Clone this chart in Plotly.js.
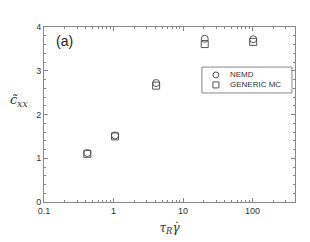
<!DOCTYPE html>
<html>
<head>
<meta charset="utf-8">
<script src="https://cdn.plot.ly/plotly-3.0.1.min.js"></script>
<style>html,body{margin:0;padding:0;background:#fff;}#chart{width:310px;height:242px;}</style>
</head>
<body>
<div id="chart"></div>
<script>
var shearRates = [0.42, 1.05, 4.1, 20.5, 102];
var nemdValues = [1.12, 1.52, 2.72, 3.73, 3.72];
var genericValues = [1.10, 1.50, 2.66, 3.61, 3.66];
var seriesNames = ['NEMD', 'GENERIC MC'];
var seriesShapes = ['circle', 'rect'];
var xTickVals = [0.1, 1, 10, 100];
var xTickText = ['0.1', '1', '10', '100'];
var yTickVals = [0, 1, 2, 3, 4];

var traces = [
  {x: shearRates, y: nemdValues, name: seriesNames[0], mode: 'markers', type: 'scatter',
   marker: {symbol: 'circle-open', color: '#555', size: 7, line: {width: 1}}},
  {x: shearRates, y: genericValues, name: seriesNames[1], mode: 'markers', type: 'scatter',
   marker: {symbol: 'square-open', color: '#555', size: 7, line: {width: 1}}}
];
var axisCommon = {showline: true, linecolor: '#888', linewidth: 1, mirror: 'ticks', ticks: 'inside',
  ticklen: 4, tickcolor: '#888', showgrid: false, zeroline: false,
  tickfont: {family: 'Liberation Sans, Arial', size: 9, color: '#333'}};

var legendRows = [0.726, 0.669];
var annotations = [
  {text: '(a)', xref: 'paper', yref: 'paper', x: 0.04, y: 0.92, xanchor: 'left', yanchor: 'middle',
   showarrow: false, font: {family: 'Liberation Sans, Arial', size: 14, color: '#222'}},
  {text: '<i>c\u0303<sub>xx</sub></i>', xref: 'paper', yref: 'paper', x: -0.1, y: 0.58, xanchor: 'center', yanchor: 'middle',
   showarrow: false, font: {family: 'DejaVu Serif, serif', size: 13, color: '#333'}}
];
var shapes = [
  {type: 'rect', xref: 'paper', yref: 'paper', x0: 0.629, x1: 0.988, y0: 0.623, y1: 0.771,
   line: {color: '#888', width: 1}, fillcolor: '#fff', layer: 'below'}
];
var hw = 3 / 251, hh = 3 / 175;
seriesNames.forEach(function (n, i) {
  shapes.push({type: seriesShapes[i], xref: 'paper', yref: 'paper',
    x0: 0.685 - hw, x1: 0.685 + hw, y0: legendRows[i] - hh, y1: legendRows[i] + hh,
    line: {color: '#555', width: 1}});
  annotations.push({text: n, xref: 'paper', yref: 'paper', x: 0.735, y: legendRows[i],
    xanchor: 'left', yanchor: 'middle', showarrow: false,
    font: {family: 'Liberation Sans, Arial', size: 8, color: '#333'}});
});

var layout = {
  width: 310, height: 242,
  margin: {l: 44, r: 15, t: 27, b: 40},
  paper_bgcolor: '#fff', plot_bgcolor: '#fff',
  showlegend: false,
  xaxis: Object.assign({}, axisCommon, {type: 'log', range: [-1, 2.61], tickmode: 'array',
    tickvals: xTickVals, ticktext: xTickText,
    minor: {ticks: 'inside', ticklen: 2, tickcolor: '#888', dtick: 'D1'},
    title: {text: '<i>τ<sub>R</sub>γ\u0307</i>', font: {family: 'DejaVu Serif, serif', size: 12, color: '#333'}, standoff: 8}}),
  yaxis: Object.assign({}, axisCommon, {range: [0, 4], tickmode: 'array', tickvals: yTickVals,
    minor: {ticks: 'inside', ticklen: 2, tickcolor: '#888', dtick: 0.2}}),
  shapes: shapes,
  annotations: annotations
};
Plotly.newPlot('chart', traces, layout, {staticPlot: true, displayModeBar: false});
</script>
</body>
</html>
